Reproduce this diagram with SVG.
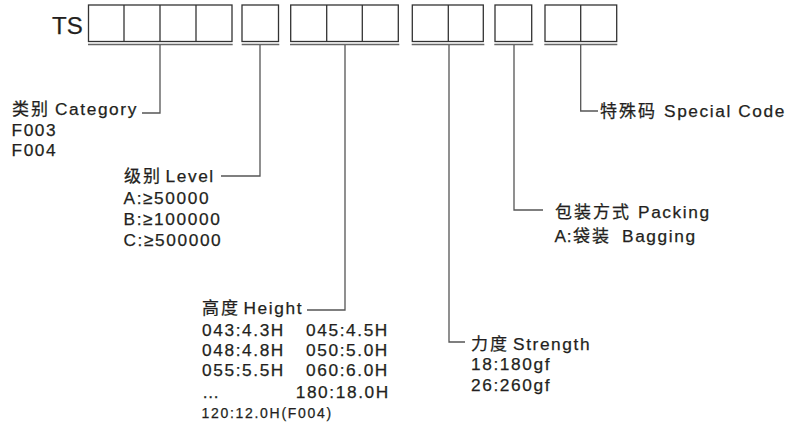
<svg xmlns="http://www.w3.org/2000/svg" width="801" height="427" viewBox="0 0 801 427">
<style>
.bg{fill:#ffffff}
.box{fill:none;stroke:#333333;stroke-width:1.3}
.div{stroke:#333333;stroke-width:1.3}
.ul{stroke:#666666;stroke-width:1.6}
.con{fill:none;stroke:#555555;stroke-width:1.3}
text{font-family:"Liberation Sans","Noto Sans CJK SC",sans-serif;fill:#231f20;stroke:#231f20;stroke-width:0.25}
.t{font-size:17.3px;letter-spacing:1.6px}
.cjk{font-family:"Noto Sans CJK SC","Liberation Sans",sans-serif;font-size:17px;letter-spacing:2px}
.s{font-size:14px;letter-spacing:1.7px}
.ts{font-size:24px}
.tight{letter-spacing:0.6px}
</style>
<rect class="bg" x="0" y="0" width="801" height="427"/>
<g id="code">
  <text class="ts" x="52" y="34">TS</text>
  <g id="box-category">
    <rect class="box" x="88.5" y="5" width="143.5" height="36.5"/>
    <line class="div" x1="124" y1="5" x2="124" y2="41.5"/>
    <line class="div" x1="160" y1="5" x2="160" y2="41.5"/>
    <line class="div" x1="196" y1="5" x2="196" y2="41.5"/>
    <line class="ul" x1="88" y1="44.5" x2="232.7" y2="44.5"/>
  </g>
  <g id="box-level">
    <rect class="box" x="242" y="5" width="36.5" height="36.5"/>
    <line class="ul" x1="241.7" y1="44.5" x2="279.3" y2="44.5"/>
  </g>
  <g id="box-height">
    <rect class="box" x="290.7" y="5" width="107.6" height="36.5"/>
    <line class="div" x1="326.7" y1="5" x2="326.7" y2="41.5"/>
    <line class="div" x1="362.3" y1="5" x2="362.3" y2="41.5"/>
    <line class="ul" x1="290" y1="44.5" x2="399.3" y2="44.5"/>
  </g>
  <g id="box-strength">
    <rect class="box" x="412.3" y="5" width="71" height="36.5"/>
    <line class="div" x1="448.3" y1="5" x2="448.3" y2="41.5"/>
    <line class="ul" x1="411.7" y1="44.5" x2="484.3" y2="44.5"/>
  </g>
  <g id="box-packing">
    <rect class="box" x="495" y="5" width="36.7" height="36.5"/>
    <line class="ul" x1="494.3" y1="44.5" x2="533.3" y2="44.5"/>
  </g>
  <g id="box-special">
    <rect class="box" x="545" y="5" width="71.7" height="36.5"/>
    <line class="div" x1="580.7" y1="5" x2="580.7" y2="41.5"/>
    <line class="ul" x1="544.3" y1="44.5" x2="617.3" y2="44.5"/>
  </g>
</g>
<g id="connectors">
  <path class="con" d="M160,45 V113 H142"/>
  <path class="con" d="M260,45 V176 H221"/>
  <path class="con" d="M345,45 V310 H307"/>
  <path class="con" d="M449,45 V342 H465"/>
  <path class="con" d="M514,45 V210 H543"/>
  <path class="con" d="M580.7,45 V111 H598"/>
</g>
<g id="label-category">
  <text class="cjk" x="12" y="114.5">类别</text>
  <text class="t" x="55" y="114.5">Category</text>
  <text class="t" x="11.5" y="135.5">F003</text>
  <text class="t" x="11.5" y="155.5">F004</text>
</g>
<g id="label-level">
  <text class="cjk" x="124" y="182">级别</text>
  <text class="t" x="165.5" y="182">Level</text>
  <text class="t" x="123.5" y="203.5">A:≥50000</text>
  <text class="t" x="123.5" y="225">B:≥100000</text>
  <text class="t" x="123.5" y="246">C:≥500000</text>
</g>
<g id="label-height">
  <text class="cjk" x="202" y="314">高度</text>
  <text class="t" x="243.5" y="314">Height</text>
  <text class="t" x="202" y="336">043:4.3H</text>
  <text class="t" x="306" y="336">045:4.5H</text>
  <text class="t" x="202" y="356">048:4.8H</text>
  <text class="t" x="306" y="356">050:5.0H</text>
  <text class="t" x="202" y="376">055:5.5H</text>
  <text class="t" x="306" y="376">060:6.0H</text>
  <text class="t" x="202" y="398">…</text>
  <text class="t" x="295.7" y="398">180:18.0H</text>
  <text class="s" x="201.5" y="418">120:12.0H(F004)</text>
</g>
<g id="label-strength">
  <text class="cjk" x="471" y="349.5">力度</text>
  <text class="t" x="513" y="349.5">Strength</text>
  <text class="t" x="471" y="370">18:180gf</text>
  <text class="t" x="471" y="390.5">26:260gf</text>
</g>
<g id="label-packing">
  <text class="cjk" x="555" y="218">包装方式</text>
  <text class="t" x="638" y="218">Packing</text>
  <text class="t tight" x="554.5" y="241.5">A:</text>
  <text class="cjk" x="573" y="241.5">袋装</text>
  <text class="t" x="622" y="241.5">Bagging</text>
</g>
<g id="label-special">
  <text class="cjk" x="600" y="117">特殊码</text>
  <text class="t" x="664" y="117">Special Code</text>
</g>
</svg>
